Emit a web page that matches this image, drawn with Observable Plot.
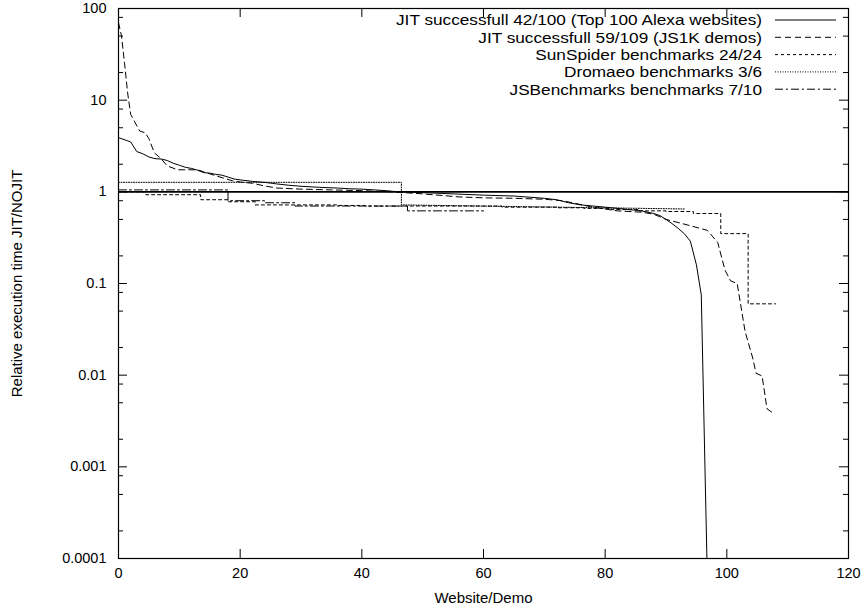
<!DOCTYPE html>
<html><head><meta charset="utf-8">
<script src="https://cdn.jsdelivr.net/npm/d3@7"></script>
<script src="https://cdn.jsdelivr.net/npm/@observablehq/plot@0.6"></script>
<style>body{margin:0;background:#fff;} svg{display:block;}</style>
</head><body><div id="chart"></div>
<script>
const seriesNames = [
  "JIT successfull 42/100 (Top 100 Alexa websites)",
  "JIT successfull 59/109 (JS1K demos)",
  "SunSpider benchmarks 24/24",
  "Dromaeo benchmarks 3/6",
  "JSBenchmarks benchmarks 7/10"
];
const seriesDash = [null, "6,4", "3,3", "1,1.5", "8,3,2,3"];

const alexaX = [0,1.5,2,3,4,5,6,7,8,9,10,11,12,13,14,15,16,17,18,19,20,22,24,26,28,30,33,36,38,40,44,46,50,55,60,65,70,72,74,76,78,80,84,86,88,89,90,91,92,93,94,95,95.8,97];
const alexaY = [3.9,3.6,3.5,2.75,2.6,2.4,2.3,2.28,2.2,2.05,1.95,1.85,1.8,1.72,1.62,1.6,1.55,1.52,1.45,1.38,1.35,1.3,1.27,1.22,1.18,1.15,1.12,1.1,1.08,1.07,1.03,1.0,0.98,0.95,0.92,0.9,0.85,0.82,0.76,0.72,0.7,0.68,0.64,0.62,0.58,0.55,0.5,0.45,0.4,0.35,0.29,0.16,0.075,0.000014];

const js1kX = [0,0.5,1,1.5,2,2.6,3.5,4.4,5,5.9,7,8,9.7,13,15,18.7,20,22,24,26,30,35,40,45,50,56,60,65,70,73,75,78,82,86,88,90,92.7,96.8,98.5,99.7,100.6,101.7,103,104.3,104.8,105.8,106.6,107.5];
const js1kY = [70,50,25,12,7,5.9,4.6,4.4,3.8,2.66,2.3,1.92,1.74,1.74,1.57,1.32,1.28,1.24,1.16,1.1,1.07,1.05,1.03,1.0,0.95,0.88,0.86,0.85,0.83,0.8,0.75,0.68,0.62,0.6,0.57,0.5,0.45,0.38,0.28,0.14,0.107,0.1,0.03,0.015,0.0105,0.0098,0.0043,0.0039];

const sunX = [0,4.5,9,13.5,18,22.5,27,31.5,36,40.5,45,49.5,54,58.5,63,67.5,72,76.5,81,85.5,90,94.5,99,103.5,108];
const sunY = [1.0,0.93,0.93,0.82,0.78,0.72,0.72,0.72,0.71,0.70,0.70,0.70,0.70,0.70,0.68,0.68,0.67,0.66,0.64,0.62,0.61,0.58,0.35,0.06,0.06];

const dromX = [0,46.5,46.5,93];
const dromY = [1.27,1.27,0.72,0.65];

const jsbX = [0,18,24,29,47.5,60];
const jsbY = [1.05,0.8,0.76,0.7,0.62,0.62];

const xTicks = [0,20,40,60,80,100,120];
const yTicks = [0.0001,0.001,0.01,0.1,1,10,100];
const yMinorMult = [2,5,8];
const xLabel = "Website/Demo";
const yLabel = "Relative execution time JIT/NOJIT";

const rows = (xs, ys) => xs.map((x, i) => ({x, y: ys[i]}));
const yMinor = yTicks.slice(0, -1).flatMap(d => yMinorMult.map(m => d * m));

const FW = 730, FH = 550;
const font = "'Liberation Sans', Arial, Helvetica, sans-serif";

const chart = Plot.plot({
  width: 868, height: 614,
  marginLeft: 118, marginRight: 20, marginTop: 8, marginBottom: 56,
  style: {fontFamily: font, fontSize: "15px", background: "#fff", color: "#000"},
  x: {domain: [0, 120]},
  y: {type: "log", domain: [1e-4, 100]},
  marks: [
    Plot.ruleY([1], {stroke: "#000", strokeWidth: 1.6}),
    Plot.line(rows(alexaX, alexaY), {x: "x", y: "y", stroke: "#000", strokeWidth: 1, clip: true}),
    Plot.line(rows(js1kX, js1kY), {x: "x", y: "y", stroke: "#000", strokeWidth: 1, strokeDasharray: seriesDash[1], clip: true}),
    Plot.line(rows(sunX, sunY), {x: "x", y: "y", curve: "step-after", stroke: "#000", strokeWidth: 1, strokeDasharray: seriesDash[2], clip: true}),
    Plot.line(rows(dromX, dromY), {x: "x", y: "y", stroke: "#000", strokeWidth: 1, strokeDasharray: seriesDash[3], clip: true}),
    Plot.line(rows(jsbX, jsbY), {x: "x", y: "y", curve: "step-after", stroke: "#000", strokeWidth: 1, strokeDasharray: seriesDash[4], clip: true}),
    // inward ticks
    Plot.ruleY(yTicks.slice(1, -1), {insetRight: FW - 9, stroke: "#000"}),
    Plot.ruleY(yTicks.slice(1, -1), {insetLeft: FW - 9, stroke: "#000"}),
    Plot.ruleY(yMinor, {insetRight: FW - 5, stroke: "#000"}),
    Plot.ruleY(yMinor, {insetLeft: FW - 5, stroke: "#000"}),
    Plot.ruleX(xTicks.slice(1, -1), {insetTop: FH - 9, stroke: "#000"}),
    Plot.ruleX(xTicks.slice(1, -1), {insetBottom: FH - 9, stroke: "#000"}),
    Plot.axisX(xTicks, {tickSize: 0, tickPadding: 9, label: null, fontSize: 14.5}),
    Plot.axisY(yTicks, {tickSize: 0, tickPadding: 12, tickFormat: d => String(d), label: null, fontSize: 14.5}),
    Plot.text([xLabel], {frameAnchor: "bottom", dy: 40, lineAnchor: "middle", textAnchor: "middle", fontSize: 15}),
    Plot.text([yLabel], {frameAnchor: "left", dx: -101, rotate: -90, lineAnchor: "middle", textAnchor: "middle", fontSize: 15}),
    Plot.frame({stroke: "#000", strokeWidth: 1.2})
  ]
});
document.getElementById("chart").appendChild(chart);

// legend (inside frame, top-right)
const svg = d3.select(chart);
const lg = svg.append("g").attr("font-family", font).attr("font-size", "15.5px");
seriesNames.forEach((name, i) => {
  const yy = 20 + 17.3 * i;
  const t = lg.append("text").attr("x", 762).attr("y", yy).attr("dy", "0.35em").attr("text-anchor", "end").attr("fill", "#000").text(name);
  const len = t.node().getComputedTextLength();
  if (len > 0) t.attr("textLength", len * 1.11).attr("lengthAdjust", "spacingAndGlyphs");
  const ln = lg.append("line").attr("x1", 775).attr("x2", 836).attr("y1", yy).attr("y2", yy).attr("stroke", "#000").attr("stroke-width", 1);
  if (seriesDash[i]) ln.attr("stroke-dasharray", seriesDash[i]);
});
</script></body></html>
